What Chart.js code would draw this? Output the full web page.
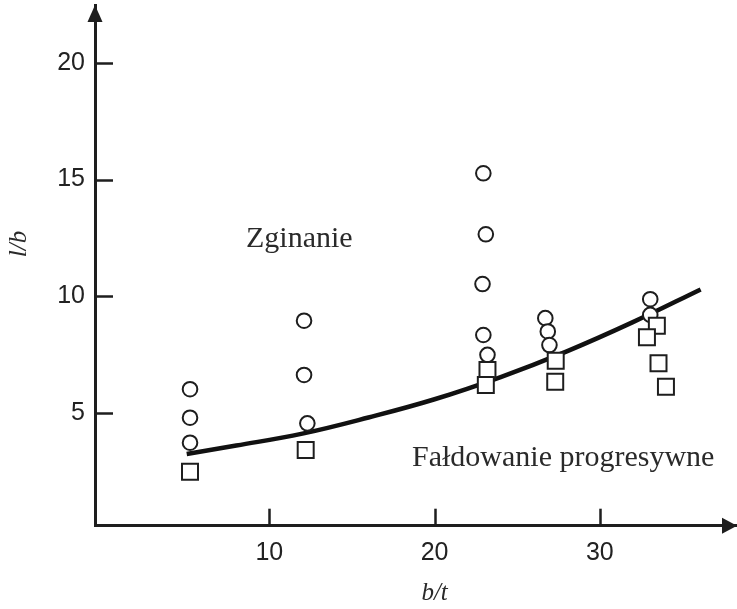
<!DOCTYPE html>
<html>
<head>
<meta charset="utf-8">
<script src="https://cdn.jsdelivr.net/npm/chart.js@4/dist/chart.umd.min.js"></script>
<style>
  html, body { margin: 0; padding: 0; background: #fff; }
  #chart { display: block; }
</style>
</head>
<body>
<canvas id="chart" width="737" height="609"></canvas>
<script>
// values
const circleX = [5.2, 5.2, 5.2, 12.1, 12.1, 12.3, 22.95, 23.1, 22.9, 22.95, 23.2, 26.7, 26.85, 26.95, 33.05, 33.05];
const circleY = [6.03, 4.81, 3.74, 8.96, 6.64, 4.57, 15.27, 12.66, 10.53, 8.35, 7.5, 9.07, 8.5, 7.92, 9.88, 9.21];
const squareX = [5.2, 12.2, 23.2, 23.1, 27.33, 27.3, 33.45, 32.85, 33.55, 34.0];
const squareY = [2.5, 3.43, 6.85, 6.21, 7.25, 6.35, 8.75, 8.25, 7.14, 6.14];
const curveX = [5, 8, 12, 16, 20, 24, 28, 32, 36.1];
const curveY = [3.26, 3.62, 4.13, 4.82, 5.6, 6.55, 7.65, 8.9, 10.3];
const xTicks = [10, 20, 30];
const yTicks = [5, 10, 15, 20];

const ink = '#1e1e1e';
const pts = (xs, ys) => xs.map((x, i) => ({ x, y: ys[i] }));

// tick marks drawn inward, arrow heads and the free text labels
const decor = {
  id: 'decor',
  afterDraw(chart) {
    const { ctx, chartArea: a, scales: { x, y } } = chart;
    ctx.save();
    ctx.strokeStyle = ink;
    ctx.fillStyle = ink;
    ctx.lineWidth = 2.5;
    yTicks.forEach(v => {
      const py = Math.round(y.getPixelForValue(v)) + 0.5;
      ctx.beginPath(); ctx.moveTo(a.left, py); ctx.lineTo(a.left + 18, py); ctx.stroke();
    });
    xTicks.forEach(v => {
      const px = Math.round(x.getPixelForValue(v)) + 0.5;
      ctx.beginPath(); ctx.moveTo(px, a.bottom); ctx.lineTo(px, a.bottom - 17); ctx.stroke();
    });
    // arrows
    ctx.beginPath();
    ctx.moveTo(a.left, a.top); ctx.lineTo(a.left - 7.5, a.top + 17); ctx.lineTo(a.left + 7.5, a.top + 17);
    ctx.closePath(); ctx.fill();
    ctx.beginPath();
    ctx.moveTo(a.right, a.bottom); ctx.lineTo(a.right - 15, a.bottom - 8); ctx.lineTo(a.right - 15, a.bottom + 8);
    ctx.closePath(); ctx.fill();

    ctx.fillStyle = '#2a2a2a';
    ctx.font = '30px "Liberation Serif", "Times New Roman", serif';
    ctx.textBaseline = 'alphabetic';
    ctx.textAlign = 'left';
    ctx.fillText('Zginanie', 246, 247);
    ctx.fillText('Fałdowanie progresywne', 412, 466);
    ctx.font = 'italic 25px "Liberation Serif", "Times New Roman", serif';
    ctx.textAlign = 'center';
    ctx.fillText('b/t', x.getPixelForValue(20), 600);
    ctx.translate(26, 244);
    ctx.rotate(-Math.PI / 2);
    ctx.fillText('l/b', 0, 0);
    ctx.restore();
  }
};

new Chart(document.getElementById('chart'), {
  type: 'scatter',
  data: {
    datasets: [
      {
        label: 'curve',
        data: pts(curveX, curveY),
        showLine: true,
        borderColor: '#111',
        borderWidth: 4.5,
        pointRadius: 0,
        tension: 0.4,
        order: 3,
      },
      {
        label: 'circles',
        data: pts(circleX, circleY),
        pointStyle: 'circle',
        pointRadius: 7.3,
        borderWidth: 2,
        borderColor: ink,
        backgroundColor: '#fff',
        order: 2,
      },
      {
        label: 'squares',
        data: pts(squareX, squareY),
        pointStyle: 'rect',
        pointRadius: 11.3,
        borderWidth: 2,
        borderColor: ink,
        backgroundColor: '#fff',
        order: 1,
      },
    ],
  },
  options: {
    responsive: false,
    animation: false,
    layout: { autoPadding: false, padding: { left: 0, top: 5, right: 0, bottom: 0 } },
    plugins: { legend: { display: false }, tooltip: { enabled: false } },
    scales: {
      x: {
        type: 'linear',
        min: -0.55,
        max: 38.3,
        afterBuildTicks: s => { s.ticks = xTicks.map(value => ({ value })); },
        afterFit: s => { s.height = 83.3; s.paddingLeft = 0; s.paddingRight = 0; },
        grid: { display: false, drawTicks: false },
        border: { display: true, width: 3, color: ink },
        ticks: {
          padding: 12,
          color: '#222',
          font: { family: '"Liberation Sans", Arial, sans-serif', size: 25 },
        },
      },
      y: {
        type: 'linear',
        min: 0.19,
        max: 22.47,
        afterBuildTicks: s => { s.ticks = yTicks.map(value => ({ value })); },
        afterFit: s => { s.width = 95; s.paddingTop = 0; s.paddingBottom = 0; },
        grid: { display: false, drawTicks: false },
        border: { display: true, width: 3, color: ink },
        ticks: {
          padding: 10,
          color: '#222',
          font: { family: '"Liberation Sans", Arial, sans-serif', size: 25 },
        },
      },
    },
  },
  plugins: [decor],
});
</script>
</body>
</html>
